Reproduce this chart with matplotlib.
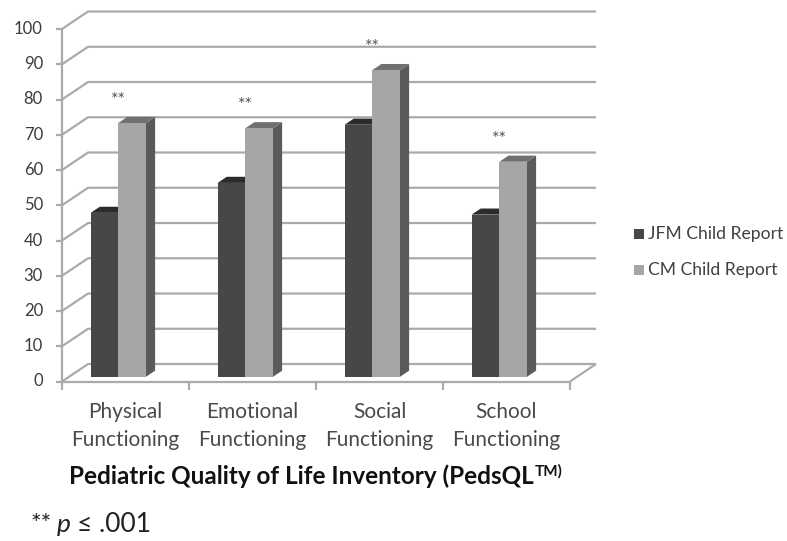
import matplotlib
matplotlib.use("Agg")
import matplotlib.pyplot as plt
from matplotlib.patches import Polygon, Rectangle
from matplotlib.transforms import IdentityTransform

# ---- data -------------------------------------------------------------
categories = ["Physical\nFunctioning", "Emotional\nFunctioning",
              "Social\nFunctioning", "School\nFunctioning"]
series_names = ["JFM Child Report", "CM Child Report"]
jfm_values = [46.5, 55.0, 71.5, 46.0]
cm_values = [72.0, 70.5, 87.0, 61.0]
significant = [True, True, True, True]
y_ticks = list(range(0, 101, 10))
axis_title = "Pediatric Quality of Life Inventory (PedsQL"
axis_title_sup = "TM)"

# ---- style ------------------------------------------------------------
FONT = ["Lato", "DejaVu Sans"]
plt.rcParams["font.family"] = FONT
GRID = "#aaaaaa"
DARK = dict(front="#474747", top="#2c2c2c", side="#333333")
LIGHT = dict(front="#a6a6a6", top="#707070", side="#5a5a5a")

W, H = 787, 541
fig = plt.figure(figsize=(W / 100, H / 100), dpi=100)
fig.patch.set_facecolor("white")

# front plane of the 3-D box: x in category units, y in value units
ax = fig.add_axes([62 / W, (H - 381.5) / H, 508 / W, 352.5 / H])
n = len(categories)
ax.set_xlim(0, n)
ax.set_ylim(0, 100)
ax.axis("off")

DX, DY = 0.205, 4.96      # offset of the back wall
F0, F1 = 0.27, 0.62       # depth of the bar front / back faces


def proj(c, v, d):
    return (c + d * DX, v + d * DY)


line_kw = dict(color=GRID, lw=1.6, clip_on=False, solid_capstyle="butt")

# back wall gridlines and left wall diagonals
for v in y_ticks:
    ax.plot([0, DX, n + DX], [v, v + DY, v + DY], **line_kw, zorder=1)
    ax.plot([-0.045, 0], [v, v], **line_kw, zorder=1)
    ax.text(-0.15, v, str(v), ha="right", va="center", fontsize=12,
            color="#3c3c3c")

# front value axis, floor edges and category ticks
ax.plot([0, 0], [0, 100], **line_kw, zorder=1)
ax.plot([0, n], [0, 0], **line_kw, zorder=1)
ax.plot([n, n + DX], [0, DY], **line_kw, zorder=1)
for i in range(n + 1):
    ax.plot([i, i], [0, -2.3], **line_kw, zorder=1)


def bar3d(xl, xr, val, colors, z):
    front = [proj(xl, 0, F0), proj(xr, 0, F0), proj(xr, val, F0), proj(xl, val, F0)]
    top = [proj(xl, val, F0), proj(xr, val, F0), proj(xr, val, F1), proj(xl, val, F1)]
    side = [proj(xr, 0, F0), proj(xr, val, F0), proj(xr, val, F1), proj(xr, 0, F1)]
    for pts, key in ((side, "side"), (top, "top"), (front, "front")):
        ax.add_patch(Polygon(pts, closed=True, facecolor=colors[key],
                             edgecolor="none", zorder=z, clip_on=False))


BAR_W = 0.218
for i in range(n):
    x0 = i + 0.17
    xb = x0 + BAR_W
    bar3d(x0, xb, jfm_values[i], DARK, 3 + 2 * i)
    bar3d(xb, xb + BAR_W, cm_values[i], LIGHT, 4 + 2 * i)
    if significant[i]:
        sx, sy = proj(xb, cm_values[i] + 6.5, F0)
        ax.text(sx, sy, "**", ha="center", va="center", fontsize=13,
                color="#555555", zorder=20)
    top_line, bottom_line = categories[i].split("\n")
    ax.text(i + 0.5, -10.4, top_line, ha="center", va="baseline",
            fontsize=15, color="#4a4a4a")
    ax.text(i + 0.5, -18.4, bottom_line, ha="center", va="baseline",
            fontsize=15, color="#4a4a4a")

# ---- legend -----------------------------------------------------------
for name, col, yc in ((series_names[0], DARK["front"], 234),
                      (series_names[1], LIGHT["front"], 270)):
    fig.add_artist(Rectangle((634 / W, (H - yc - 5) / H), 10 / W, 10 / H,
                             transform=fig.transFigure, facecolor=col,
                             edgecolor="none"))
    fig.text(648 / W, (H - yc) / H, name, ha="left", va="center",
             fontsize=12.6, color="#404040")

# ---- text runs made of differently styled pieces ----------------------
renderer = fig.canvas.get_renderer()
ident = IdentityTransform()


def text_run(pieces, x_px, baseline_px, center=False):
    arts = []
    for s, kw, dy, gap in pieces:
        t = fig.text(0, 0, s, transform=ident, va="baseline", ha="left", **kw)
        arts.append((t, dy, gap))
    widths = [t.get_window_extent(renderer).width for t, _, _ in arts]
    total = sum(widths) + sum(g for _, _, g in arts)
    x = x_px - total / 2 if center else x_px
    for (t, dy, gap), w in zip(arts, widths):
        x += gap
        t.set_position((x, H - baseline_px + dy))
        x += w


text_run([(axis_title, dict(fontsize=17.5, fontweight="bold", color="#111111"), 0, 0),
          (axis_title_sup, dict(fontsize=11, fontweight="bold", color="#111111"), 8, 0.5)],
         316, 484, center=True)

text_run([("**", dict(fontsize=18, color="#222222"), 0, 0),
          ("p", dict(fontsize=19, style="italic", color="#222222"), 0, 6),
          ("≤ .001", dict(fontsize=19, color="#222222"), 0, 6)],
         30, 532)

fig.savefig("out.png", dpi=100, facecolor="white")
